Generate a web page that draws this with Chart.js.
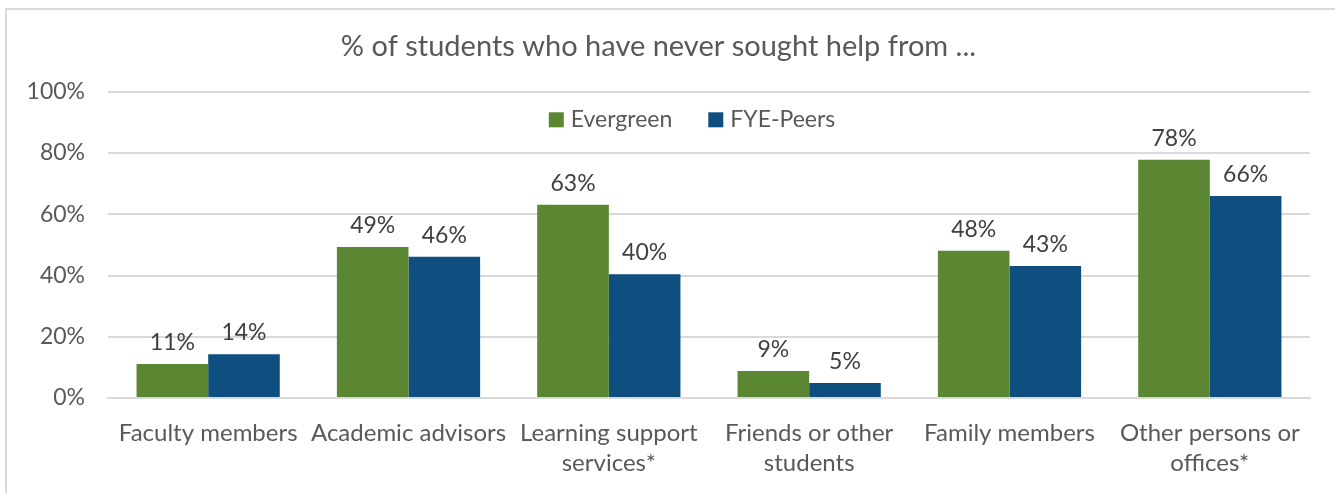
<!DOCTYPE html>
<html>
<head>
<meta charset="utf-8">
<script src="https://cdn.jsdelivr.net/npm/chart.js@4.4.1/dist/chart.umd.min.js"></script>
<style>
  html, body { margin: 0; padding: 0; background: #fff; }
  #box {
    position: absolute; left: 5px; top: 8px; width: 1330px; height: 485px;
    border-left: 2px solid #d9d9d9; border-top: 2px solid #d9d9d9;
  }
  canvas { display: block; }
</style>
</head>
<body>
<div id="box"><canvas id="helpChart" width="1328" height="483"></canvas></div>
<script>
/* --------------- Data --------------------- */
const categories = [
  "Faculty members",
  "Academic advisors",
  ["Learning support", "services*"],
  ["Friends or other", "students"],
  "Family members",
  ["Other persons or", "offices*"],
];
const evergreen = [11.1, 49.3, 63.1, 8.8, 48.1, 77.8];
const fyePeers = [14.3, 46.1, 40.4, 4.9, 43.1, 66.0];
const yTicks = [0, 20, 40, 60, 80, 100];

const FONT = "Lato, 'Open Sans', sans-serif";
const TEXT = "#595959";

/* --------------- Value labels above bars --------------------- */
const barLabels = {
  id: "barLabels",
  afterDatasetsDraw(chart) {
    const ctx = chart.ctx;
    ctx.save();
    ctx.font = "23px " + FONT;
    ctx.fillStyle = "#404040";
    ctx.textAlign = "center";
    ctx.textBaseline = "bottom";
    chart.data.datasets.forEach((ds, i) => {
      chart.getDatasetMeta(i).data.forEach((bar, j) => {
        ctx.fillText(Math.round(ds.data[j]) + "%", bar.x, bar.y - 10);
      });
    });
    ctx.restore();
  },
};

/* --------------- Legend inside the plot, centred --------------------- */
const innerLegend = {
  id: "innerLegend",
  afterDatasetsDraw(chart) {
    const ctx = chart.ctx;
    const area = chart.chartArea;
    const box = 15, gap = 7, spacing = 36;
    ctx.save();
    ctx.font = "23px " + FONT;
    ctx.textBaseline = "middle";
    const items = chart.data.datasets.map((ds) => ({
      text: ds.label,
      color: ds.backgroundColor,
      w: box + gap + ctx.measureText(ds.label).width,
    }));
    const total = items.reduce((s, it) => s + it.w, 0) + spacing * (items.length - 1);
    let x = (area.left + area.right) / 2 - total / 2 - 17;
    const y = area.top + 28;
    items.forEach((it) => {
      ctx.fillStyle = it.color;
      ctx.fillRect(x, y - box / 2, box, box);
      ctx.fillStyle = TEXT;
      ctx.fillText(it.text, x + box + gap, y);
      x += it.w + spacing;
    });
    ctx.restore();
  },
};

/* --------------- Chart --------------------- */
new Chart(document.getElementById("helpChart"), {
  type: "bar",
  plugins: [barLabels, innerLegend],
  data: {
    labels: categories,
    datasets: [
      { label: "Evergreen", data: evergreen, backgroundColor: "#5b8632" },
      { label: "FYE-Peers", data: fyePeers, backgroundColor: "#0f4f80" },
    ],
  },
  options: {
    responsive: false,
    animation: false,
    layout: { padding: { left: 0, right: 25, top: 0, bottom: 3 } },
    datasets: { bar: { barPercentage: 1, categoryPercentage: 0.715 } },
    plugins: {
      tooltip: { enabled: false },
      legend: { display: false },
      title: {
        display: true,
        text: "% of students who have never sought help from ...",
        color: TEXT,
        font: { family: FONT, size: 29, weight: "normal" },
        padding: { top: 19, bottom: 28 },
      },
    },
    scales: {
      x: {
        grid: { display: false },
        border: { color: "#d9d9d9", width: 2 },
        ticks: {
          color: TEXT,
          font: { family: FONT, size: 24, lineHeight: 1.25 },
          maxRotation: 0,
          autoSkip: false,
          padding: 12,
        },
      },
      y: {
        min: 0,
        max: 100,
        afterBuildTicks: (axis) => { axis.ticks = yTicks.map((v) => ({ value: v })); },
        afterFit: (axis) => { axis.width = 101; },
        grid: { color: "#d9d9d9", lineWidth: 2, drawTicks: false },
        border: { display: false },
        ticks: {
          color: TEXT,
          font: { family: FONT, size: 23 },
          padding: 23,
          callback: (v) => v + "%",
        },
      },
    },
  },
});
</script>
</body>
</html>
